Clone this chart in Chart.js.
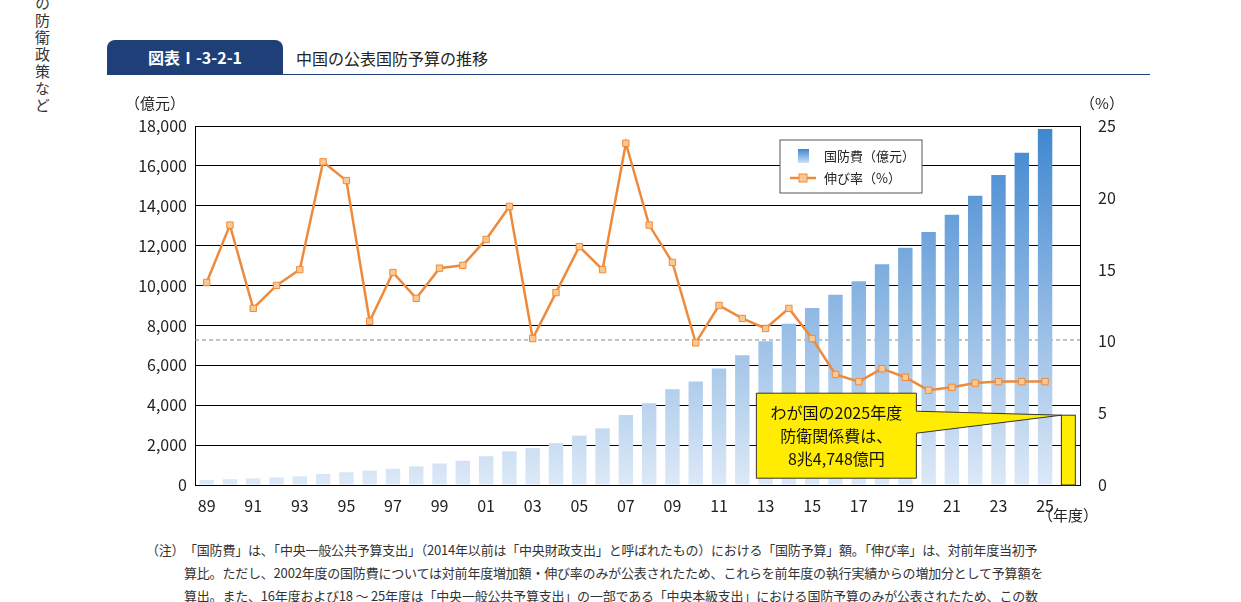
<!DOCTYPE html>
<html><head><meta charset="utf-8">
<script src="https://cdn.jsdelivr.net/npm/chart.js@4.4.1/dist/chart.umd.min.js"></script>
<style>
body{margin:0;width:1241px;height:602px;background:#fff;font-family:"Noto Sans CJK JP",sans-serif;position:relative;overflow:hidden}
#side{position:absolute;left:32px;top:-4px;writing-mode:vertical-rl;font-size:15px;color:#333;letter-spacing:2px}
#tab{position:absolute;left:107px;top:40px;width:176px;height:34px;background:#1f3f78;color:#fff;font-weight:bold;font-size:16px;line-height:34px;text-align:center;border-radius:8px 8px 0 0}
#title{position:absolute;left:296px;top:46px;font-size:16px;color:#222}
#rule{position:absolute;left:107px;top:74px;width:1043px;height:1px;background:#1f3f78}
#wrap{position:absolute;left:100px;top:88px;width:1050px;height:440px}
#note{position:absolute;left:146px;top:538px;font-size:13px;color:#333;line-height:23px;width:900px;letter-spacing:-0.2px}
#note span{position:absolute;left:0}
</style></head><body>
<div id="side">の防衛政策など</div>
<div id="tab">図表Ⅰ-3-2-1</div>
<div id="title">中国の公表国防予算の推移</div>
<div id="rule"></div>
<div id="wrap"><canvas id="c" width="1050" height="440"></canvas></div>
<div id="note"><span>（注）</span><div style="margin-left:38px">「国防費」は、「中央一般公共予算支出」（2014年以前は「中央財政支出」と呼ばれたもの）における「国防予算」額。「伸び率」は、対前年度当初予算比。ただし、2002年度の国防費については対前年度増加額・伸び率のみが公表されたため、これらを前年度の執行実績からの増加分として予算額を算出。また、16年度および18 ～ 25年度は「中央一般公共予算支出」の一部である「中央本級支出」における国防予算のみが公表されたため、この数値を「国防費」として伸び率を計算している。</div></div>
<script>
const years=["89","90","91","92","93","94","95","96","97","98","99","00","01","02","03","04","05","06","07","08","09","10","11","12","13","14","15","16","17","18","19","20","21","22","23","24","25",""];
const budget=[251,290,330,378,432,551,637,720,813,935,1077,1213,1442,1684,1853,2100,2475,2838,3509,4099,4807,5191,5836,6503,7202,8082,8869,9544,10211,11070,11899,12680,13553,14505,15537,16655,17847];
const growth=[14.1,18.1,12.3,13.9,15.0,22.5,21.2,11.4,14.8,13.0,15.1,15.3,17.1,19.4,10.2,13.4,16.6,15.0,23.8,18.1,15.5,9.9,12.5,11.6,10.9,12.3,10.2,7.7,7.2,8.1,7.5,6.6,6.8,7.1,7.2,7.2,7.2];
const japanLeft=3500, dashRight=10.1;
const leftTicks=[0,2000,4000,6000,8000,10000,12000,14000,16000,18000];
const rightTicks=[0,5,10,15,20,25];
const font={family:"Noto Sans CJK JP",size:16};
const extra={id:'extra',
beforeDatasetsDraw(ch){const c=ch.ctx,a=ch.chartArea,yr=ch.scales.y2;
 c.save();c.setLineDash([4,3]);c.strokeStyle='#888';c.lineWidth=1;const yd=yr.getPixelForValue(dashRight);
 c.beginPath();c.moveTo(a.left,yd);c.lineTo(a.right,yd);c.stroke();c.restore();},
afterDraw(ch){const c=ch.ctx,a=ch.chartArea,yl=ch.scales.y,x=ch.scales.x;
 const bw=x.getPixelForValue(1)-x.getPixelForValue(0);
 const xb=x.getPixelForValue(37)-bw*0.3, yt=yl.getPixelForValue(japanLeft), y0=yl.getPixelForValue(0);
 c.save();c.fillStyle='#ffec00';c.strokeStyle='#333';c.lineWidth=1;
 c.fillRect(xb,yt,bw*0.6,y0-yt);c.strokeRect(xb,yt,bw*0.6,y0-yt);
 const bx=xb-305,by=yt-22,bwid=160,bh=85;
 c.beginPath();c.moveTo(bx,by);c.lineTo(bx+bwid,by);c.lineTo(bx+bwid,by+18);c.lineTo(xb,yt);c.lineTo(bx+bwid,by+40);c.lineTo(bx+bwid,by+bh);c.lineTo(bx,by+bh);c.closePath();c.fill();c.stroke();
 c.fillStyle='#111';c.font='16px "Noto Sans CJK JP"';c.textAlign='center';c.textBaseline='middle';
 ['わが国の2025年度','防衛関係費は、','8兆4,748億円'].forEach((t,i)=>c.fillText(t,bx+bwid/2,by+20+i*23));
 c.font='15px "Noto Sans CJK JP"';c.fillStyle='#222';
 c.fillText('（億元）',a.left-40,15);c.fillText('（%）',a.right+22,15);c.fillText('（年度）',a.right-12,a.bottom+30);
 // legend
 const lx=680,ly=52;c.fillStyle='#fff';c.strokeStyle='#555';c.fillRect(lx,ly,142,53);c.strokeRect(lx,ly,142,53);
 const g=c.createLinearGradient(0,ly+9,0,ly+23);g.addColorStop(0,'#3f86d0');g.addColorStop(1,'#cfe0f4');
 c.fillStyle=g;c.fillRect(lx+18,ly+9,11,14);
 c.strokeStyle='#ee8a3c';c.lineWidth=2.5;c.beginPath();c.moveTo(lx+10,ly+38);c.lineTo(lx+36,ly+38);c.stroke();
 c.fillStyle='#fbc98f';c.lineWidth=1;c.fillRect(lx+19,ly+34,8,8);c.strokeRect(lx+19,ly+34,8,8);
 c.fillStyle='#222';c.font='13px "Noto Sans CJK JP"';c.textAlign='left';
 c.fillText('国防費（億元）',lx+44,ly+16);c.fillText('伸び率（%）',lx+44,ly+38);
 c.restore();}};
new Chart(document.getElementById('c'),{
data:{labels:years,datasets:[
{type:'line',label:'伸び率（%）',data:growth,yAxisID:'y2',borderColor:'#ee8a3c',borderWidth:2.5,pointStyle:'rect',pointRadius:4.5,pointBackgroundColor:'#fbc98f',pointBorderColor:'#ee8a3c',pointBorderWidth:1,tension:0},
{type:'bar',label:'国防費（億元）',data:budget,yAxisID:'y',categoryPercentage:0.62,barPercentage:1,
 backgroundColor(ctx){const ch=ctx.chart,a=ch.chartArea;if(!a)return '#5a9bd8';const g=ch.ctx.createLinearGradient(0,a.top,0,a.bottom);g.addColorStop(0,'#3f86d0');g.addColorStop(1,'#dce9f7');return g;}}
]},
plugins:[extra],
options:{animation:false,responsive:false,layout:{padding:{top:38,left:0,right:0,bottom:0}},
plugins:{legend:{display:false},tooltip:{enabled:false}},
scales:{
x:{afterFit:s=>{s.height=43},grid:{display:false},border:{color:'#000'},ticks:{font,color:'#222',autoSkip:false,maxRotation:0,callback:(v,i)=>i%2==0?years[i]:''}},
y:{afterFit:s=>{s.width=95},min:0,max:18000,afterBuildTicks:s=>{s.ticks=leftTicks.map(v=>({value:v}))},grid:{color:'#000',drawTicks:false},border:{color:'#000'},ticks:{font,color:'#222',padding:8,callback:v=>v.toLocaleString('en-US')}},
y2:{afterFit:s=>{s.width=70},position:'right',min:0,max:25,afterBuildTicks:s=>{s.ticks=rightTicks.map(v=>({value:v}))},grid:{display:false},border:{color:'#000'},ticks:{font,color:'#222',padding:10}}
}}});
</script></body></html>
